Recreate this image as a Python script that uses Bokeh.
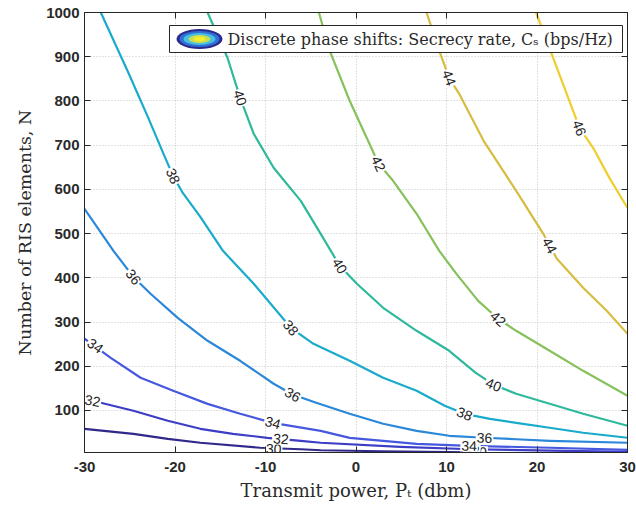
import math
from bokeh.plotting import figure
from bokeh.models import Range1d, LinearAxis, FixedTicker, Label
from bokeh.embed import file_html
from bokeh.resources import INLINE
from bokeh.core.properties import value

# ---------------- data ----------------
levels = [30, 32, 34, 36, 38, 40, 42, 44, 46]
level_colors = ["#30298c", "#3d3dc6", "#4658e0", "#2b87da", "#19abcb",
                "#2fb99c", "#86c15c", "#d7bc40", "#efcd2c"]

c30_p = [-30, -24.6, -20.8, -17.2, -10.6, -6.1, -3.9, 2.7, 10.4, 14.0]
c30_n = [58.6, 47.3, 36.0, 27.0, 15.7, 12.4, 10.1, 7.8, 6.0, 5.0]

c32_p = [-30, -28.2, -24.6, -20.8, -17.2, -13.6, -9.8, -6.1, -3.9, 4.9, 12.7, 21.5, 30]
c32_n = [124, 117.4, 99.3, 76.7, 58.6, 47.3, 38.2, 31.5, 27.0, 17.9, 12.4, 9.1, 6.6]

c34_p = [-30, -27.1, -23.8, -20.2, -16.4, -12.8, -9.2, -3.9, -0.7, 3.0, 6.7, 12.5, 21.5, 30]
c34_n = [262.4, 219, 174, 144.5, 115, 92.5, 72, 54, 38.2, 31.5, 24.7, 20.2, 15.7, 11.1]

c36_p = [-30, -26.8, -24.6, -22.7, -19.7, -16.4, -12.8, -9.1, -7.0, -4.4, -0.7, 3.0,
         6.7, 10.3, 14.2, 17.7, 21.4, 30]
c36_n = [556, 461, 402, 364, 309.6, 257.6, 212.4, 160.4, 136, 117.5, 92.5, 70,
         54, 42.8, 38.3, 35, 31.5, 27]

c38_p = [-28.2, -25.2, -23.0, -21.2, -20.2, -19.2, -17.2, -14.7, -11.3, -7.2, -4.7,
         -0.7, 3.0, 6.7, 9.8, 12.0, 14.8, 17.7, 21.4, 25.1, 30]
c38_n = [1000, 866, 764, 677, 630, 594, 538, 461, 386.5, 287, 250.8,
         212.4, 174, 144.5, 110.6, 92.5, 81.2, 72, 61, 49.6, 38.3]

c40_p = [-16.4, -14.2, -12.8, -11.3, -9.1, -6.1, -3.9, -1.8, 0.1, 3.0, 6.7, 10.3,
         13.2, 15.2, 17.7, 21.4, 25.1, 30]
c40_n = [1000, 897.6, 807, 725.7, 648.8, 574, 499.5, 427.2, 386.5, 332.2, 280.2, 235,
         185.5, 158.4, 137.8, 115.2, 92.5, 65.4]

c42_p = [-4.1, -2.9, -0.7, 2.5, 4.1, 6.7, 9.2, 11.1, 13.5, 15.7, 17.7, 21.4, 25.1, 30]
c42_n = [1000, 913.4, 800.4, 658, 619.4, 544.8, 461, 409, 348, 307.4, 280.2, 235,
         189.7, 133.2]

c44_p = [7.8, 9.2, 10.3, 11.4, 14.1, 17.7, 20.7, 21.4, 22.2, 25.1, 27.7, 30]
c44_n = [1000, 913.4, 852.3, 816, 709.8, 596.8, 499.5, 473, 443, 377.5, 325.5, 273.4]

c46_p = [19.9, 22.2, 24.7, 26.2, 28.0, 30]
c46_n = [1000, 875, 739, 694, 626, 558]

contour_p = [c30_p, c32_p, c34_p, c36_p, c38_p, c40_p, c42_p, c44_p, c46_p]
contour_n = [c30_n, c32_n, c34_n, c36_n, c38_n, c40_n, c42_n, c44_n, c46_n]

lab_level = [30, 30, 32, 32, 32, 34, 34, 34, 36, 36, 36, 38, 38, 38,
             40, 40, 40, 42, 42, 44, 44, 46]
lab_p = [-9.1, 13.6, -29.1, -8.3, 12.8, -28.8, -9.2, 12.5, -24.6, -7.0, 14.2,
         -20.2, -7.2, 12.0, -12.8, -1.8, 15.2, 2.5, 15.7, 10.3, 21.4, 24.7]
lab_n = [13.3, 6, 122, 35.9, 9, 246.3, 72.2, 20.2, 402, 136, 38.2,
         630, 287, 92.5, 807, 427.2, 158, 658, 307.4, 852.3, 473, 739]

x_ticks = [-30, -20, -10, 0, 10, 20, 30]
y_ticks = [100, 200, 300, 400, 500, 600, 700, 800, 900, 1000]
x_min, x_max = -30, 30
y_min, y_max = 5, 1000

legend_text = "Discrete phase shifts: Secrecy rate, Cₛ (bps/Hz)"
x_label = "Transmit power, Pₜ (dbm)"
y_label = "Number of RIS elements, N"

# ---------------- layout ----------------
FW, FH = 543, 440
BL, BR, BT, BB = 84, 9, 12, 57
sx = FW / (x_max - x_min)
sy = FH / (y_max - y_min)


def px2x(px):
    return x_min + (px - BL) / sx


def py2y(py):
    return y_min + (BT + FH - py) / sy


p = figure(frame_width=FW, frame_height=FH,
           x_range=Range1d(x_min, x_max), y_range=Range1d(y_min, y_max),
           output_backend="svg", toolbar_location=None,
           min_border_left=BL, min_border_right=BR, min_border_top=BT,
           min_border_bottom=BB, background_fill_color="white",
           border_fill_color="white")

p.outline_line_color = "#262626"
p.outline_line_width = 1

for ax in (p.xaxis[0], p.yaxis[0]):
    ax.major_tick_in = 6
    ax.major_tick_out = 0
    ax.minor_tick_in = 0
    ax.minor_tick_out = 0
    ax.axis_line_color = "#262626"
    ax.major_tick_line_color = "#262626"
    ax.major_label_text_font = "Liberation Sans"
    ax.major_label_text_font_size = "15px"
    ax.major_label_text_font_style = "bold"
    ax.major_label_text_color = "#2a2a2a"
    ax.axis_label_text_font = "DejaVu Serif"
    ax.axis_label_text_font_style = "normal"
    ax.axis_label_text_font_size = "18px"
    ax.axis_label_text_color = "#2a2a2a"

p.yaxis[0].axis_label_text_font_size = "17.5px"
p.xaxis[0].ticker = FixedTicker(ticks=x_ticks)
p.yaxis[0].ticker = FixedTicker(ticks=y_ticks)
p.xaxis[0].major_label_overrides = {t: str(t) for t in x_ticks}
p.xaxis[0].axis_label = x_label
p.yaxis[0].axis_label = y_label
p.xaxis[0].major_label_standoff = 9
p.xaxis[0].axis_label_standoff = 5
p.yaxis[0].major_label_standoff = 5
p.yaxis[0].axis_label_standoff = 8

for loc, tk in (("above", x_ticks), ("right", y_ticks)):
    a = LinearAxis(ticker=FixedTicker(ticks=tk), major_tick_in=6, major_tick_out=0,
                   minor_tick_in=0, minor_tick_out=0,
                   major_label_text_font_size="1px", major_label_text_alpha=0,
                   major_label_standoff=0, axis_line_color="#262626",
                   major_tick_line_color="#262626")
    p.add_layout(a, loc)

p.xgrid.ticker = FixedTicker(ticks=x_ticks)
p.ygrid.ticker = FixedTicker(ticks=y_ticks)
for g in (p.xgrid, p.ygrid):
    g.grid_line_color = "#c4c4c4"
    g.grid_line_dash = "1 2"
    g.grid_line_width = 1

# contour lines
for lv, col, cp, cn in zip(levels, level_colors, contour_p, contour_n):
    p.line(cp, cn, line_color=col, line_width=2.2, line_join="round")


# label angles from local contour slope (in screen space)
def label_angle(lv, lp, ln):
    i = levels.index(lv)
    cp, cn = contour_p[i], contour_n[i]
    best, ang = None, 0.0
    for k in range(len(cp) - 1):
        x1, y1 = cp[k] * sx, cn[k] * sy
        x2, y2 = cp[k + 1] * sx, cn[k + 1] * sy
        qx, qy = lp * sx, ln * sy
        dx, dy = x2 - x1, y2 - y1
        L2 = dx * dx + dy * dy
        t = max(0.0, min(1.0, ((qx - x1) * dx + (qy - y1) * dy) / L2)) if L2 else 0
        d = (x1 + t * dx - qx) ** 2 + (y1 + t * dy - qy) ** 2
        if best is None or d < best:
            best, ang = d, math.atan2(dy, dx)
    if ang > math.pi / 2:
        ang -= math.pi
    if ang < -math.pi / 2:
        ang += math.pi
    return ang


angles = [label_angle(l, x, y) for l, x, y in zip(lab_level, lab_p, lab_n)]
p.text(x=lab_p, y=lab_n, text=[str(l) for l in lab_level], angle=angles,
       text_align="center", text_baseline="middle",
       text_font=value("Liberation Sans"), text_font_size="14px",
       text_color="#222222", background_fill_color="white",
       background_fill_alpha=1.0, padding=1)

# legend box drawn on top of the lines
p.quad(left=[px2x(169)], right=[px2x(622)], top=[py2y(25)], bottom=[py2y(52)],
       fill_color="white", line_color="#262626", line_width=1)
icon_cx, icon_cy = px2x(199), py2y(38.5)
icon_sizes = [(46, 20), (40, 16), (32, 12), (22, 8), (12, 5)]
icon_cols = ["#2b2a8c", "#2e6fd8", "#49bfe0", "#c9dd52", "#f6ee2a"]
for (w, h), c in zip(icon_sizes, icon_cols):
    p.ellipse(x=[icon_cx], y=[icon_cy], width=[w / sx], height=[h / sy],
              fill_color=c, line_color=None)

p.add_layout(Label(x=px2x(227), y=py2y(38.5), text=legend_text,
                   text_font="DejaVu Serif", text_font_size="16px",
                   text_baseline="middle", text_align="left",
                   text_color="#2a2a2a"))

open("out.html", "w").write(file_html(p, INLINE))
